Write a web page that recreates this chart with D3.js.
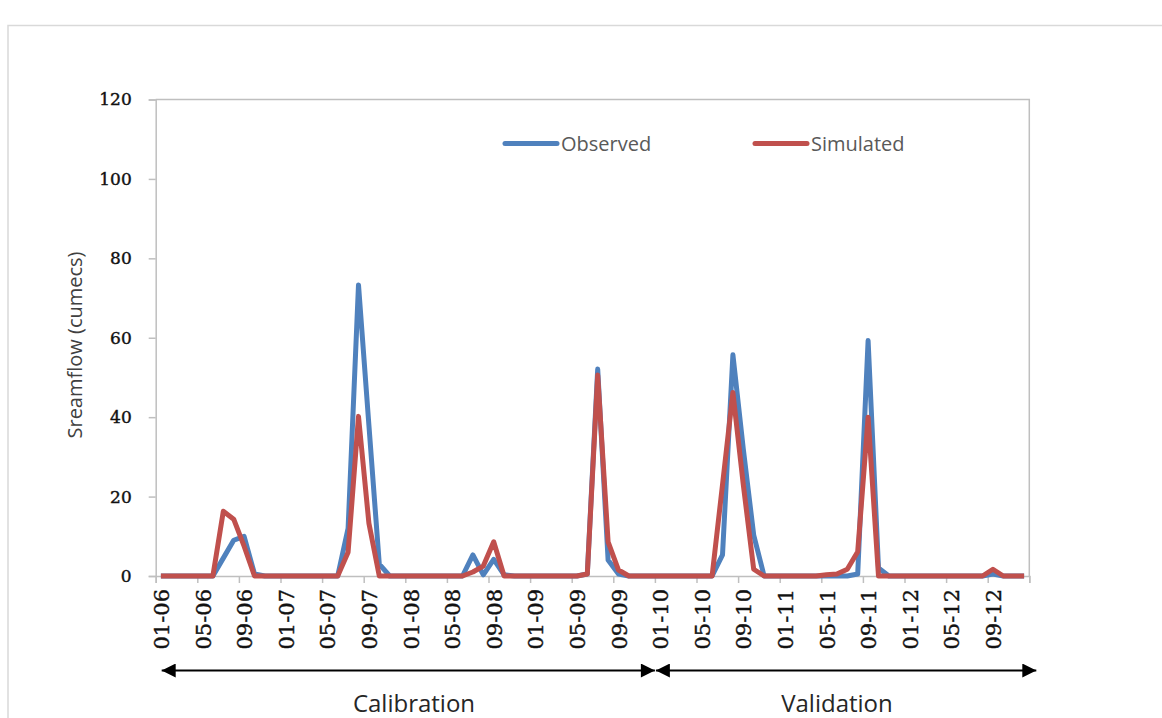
<!DOCTYPE html>
<html>
<head>
<meta charset="utf-8">
<script src="https://cdn.jsdelivr.net/npm/d3@7"></script>
<style>
  body { margin: 0; background: #fff; }
  svg { display: block; }
</style>
</head>
<body>
<div id="chart"></div>
<script>
var svgWidth = 1162;
var svgHeight = 718;

// months Jan 2006 .. Dec 2012
var categories = [
  "01-06","02-06","03-06","04-06","05-06","06-06","07-06","08-06","09-06","10-06","11-06","12-06",
  "01-07","02-07","03-07","04-07","05-07","06-07","07-07","08-07","09-07","10-07","11-07","12-07",
  "01-08","02-08","03-08","04-08","05-08","06-08","07-08","08-08","09-08","10-08","11-08","12-08",
  "01-09","02-09","03-09","04-09","05-09","06-09","07-09","08-09","09-09","10-09","11-09","12-09",
  "01-10","02-10","03-10","04-10","05-10","06-10","07-10","08-10","09-10","10-10","11-10","12-10",
  "01-11","02-11","03-11","04-11","05-11","06-11","07-11","08-11","09-11","10-11","11-11","12-11",
  "01-12","02-12","03-12","04-12","05-12","06-12","07-12","08-12","09-12","10-12","11-12","12-12"
];

var observed = [
  0,0,0,0,0,0,4.5,9,10,0.5,0,0,
  0,0,0,0,0,0,12,73.3,38,3,0,0,
  0,0,0,0,0,0,5.3,0.3,4.2,0.3,0,0,
  0,0,0,0,0,0.5,52.1,4,0.5,0,0,0,
  0,0,0,0,0,0,5.3,55.7,32,10.3,0,0,
  0,0,0,0,0,0,0,0.5,59.3,2,0,0,
  0,0,0,0,0,0,0,0,0.5,0,0,0
];

var simulated = [
  0,0,0,0,0,0,16.3,14.3,7.5,0,0,0,
  0,0,0,0,0,0,6,40.2,13.3,0,0,0,
  0,0,0,0,0,0,1,2.5,8.6,0,0,0,
  0,0,0,0,0,0.5,50.6,8.6,1.5,0,0,0,
  0,0,0,0,0,0,23,46.2,23,1.7,0,0,
  0,0,0,0,0.3,0.5,1.7,6.1,40,0,0,0,
  0,0,0,0,0,0,0,0,1.7,0,0,0
];

var yTicks = [0, 20, 40, 60, 80, 100, 120];
var tickLabels = ["01-06","05-06","09-06","01-07","05-07","09-07","01-08","05-08","09-08",
  "01-09","05-09","09-09","01-10","05-10","09-10","01-11","05-11","09-11","01-12","05-12","09-12"];

var plot = { left: 155.7, right: 1029.3, top: 99.5, bottom: 576 };
var axisGrey = "#bfbfbf";

var svg = d3.select("#chart")
  .append("svg")
  .attr("width", svgWidth)
  .attr("height", svgHeight);

svg.append("rect").attr("width", svgWidth).attr("height", svgHeight).attr("fill", "#fff");

// outer chart border (runs off the right and bottom edge)
svg.append("path")
  .attr("d", "M8,718 V25.5 H1162")
  .attr("fill", "none")
  .attr("stroke", "#d9d9d9")
  .attr("stroke-width", 1.5);

var xScale = d3.scaleBand()
  .domain(categories)
  .range([plot.left, plot.right])
  .paddingInner(0).paddingOuter(0);

var xBound = d3.scaleLinear()
  .domain([0, categories.length])
  .range([plot.left, plot.right]);

var yScale = d3.scaleLinear()
  .domain([0, 120])
  .range([plot.bottom, plot.top]);

// plot border (top and right)
svg.append("path")
  .attr("d", `M${plot.left},${plot.top} H${plot.right} V${plot.bottom}`)
  .attr("fill", "none")
  .attr("stroke", axisGrey)
  .attr("stroke-width", 1.5);

// y axis
var leftAxis = d3.axisLeft(yScale).tickValues(yTicks).tickSize(7).tickPadding(17);
var yAxisG = svg.append("g")
  .attr("transform", `translate(${plot.left}, 0)`)
  .call(leftAxis);
yAxisG.select(".domain").attr("stroke", axisGrey).attr("stroke-width", 1.5);
yAxisG.selectAll(".tick line").attr("stroke", axisGrey).attr("stroke-width", 1.5);
yAxisG.selectAll(".tick text")
  .attr("font-family", "DejaVu Serif")
  .attr("font-size", 17)
  .attr("fill", "#111")
  .attr("stroke", "#111")
  .attr("stroke-width", 0.4);

// x axis tick marks at category boundaries
var bottomAxis = d3.axisBottom(xBound)
  .tickValues(d3.range(0, categories.length + 1, 4))
  .tickSize(7)
  .tickFormat("");
var xAxisG = svg.append("g")
  .attr("transform", `translate(0, ${plot.bottom})`)
  .call(bottomAxis);
xAxisG.select(".domain").attr("stroke", axisGrey).attr("stroke-width", 1.5);
xAxisG.selectAll(".tick line").attr("stroke", axisGrey).attr("stroke-width", 1.5);

// x labels, rotated, centred on their month
svg.append("g").selectAll("text")
  .data(tickLabels)
  .enter()
  .append("text")
  .attr("transform", d => `translate(${xScale(d) + xScale.bandwidth() / 2 + 1}, ${plot.bottom + 13}) rotate(-90)`)
  .attr("text-anchor", "end")
  .attr("dominant-baseline", "central")
  .attr("font-family", "DejaVu Serif")
  .attr("font-size", 21)
  .attr("fill", "#111")
  .attr("stroke", "#111")
  .attr("stroke-width", 0.4)
  .text(d => d);

// lines
var line = d3.line()
  .x((d, i) => xScale(categories[i]) + xScale.bandwidth() / 2)
  .y(d => yScale(d));

svg.append("path")
  .datum(observed)
  .attr("d", line)
  .attr("fill", "none")
  .attr("stroke", "#4f81bd")
  .attr("stroke-width", 5)
  .attr("stroke-linejoin", "round");

svg.append("path")
  .datum(simulated)
  .attr("d", line)
  .attr("fill", "none")
  .attr("stroke", "#c0504d")
  .attr("stroke-width", 5)
  .attr("stroke-linejoin", "round");

// legend
var legend = [
  { name: "Observed", color: "#4f81bd", x: 505 },
  { name: "Simulated", color: "#c0504d", x: 755 }
];
var lg = svg.append("g").selectAll("g").data(legend).enter().append("g")
  .attr("transform", d => `translate(${d.x}, 143.5)`);
lg.append("line")
  .attr("x1", 0).attr("x2", 52)
  .attr("stroke", d => d.color)
  .attr("stroke-width", 5)
  .attr("stroke-linecap", "round");
lg.append("text")
  .attr("x", 56)
  .attr("dy", "0.35em")
  .attr("font-family", "Open Sans")
  .attr("font-size", 20)
  .attr("fill", "#595959")
  .text(d => d.name);

// y axis title
svg.append("text")
  .attr("transform", "translate(82, 345) rotate(-90)")
  .attr("text-anchor", "middle")
  .attr("font-family", "Open Sans")
  .attr("font-size", 20)
  .attr("fill", "#404040")
  .text("Sreamflow (cumecs)");

// period arrows
var defs = svg.append("defs");
defs.append("marker")
  .attr("id", "head")
  .attr("viewBox", "0 0 10 10")
  .attr("refX", 10).attr("refY", 5)
  .attr("markerUnits", "userSpaceOnUse")
  .attr("markerWidth", 15).attr("markerHeight", 14)
  .attr("orient", "auto-start-reverse")
  .append("path")
  .attr("d", "M0,0 L10,5 L0,10 Z")
  .attr("fill", "#000");

var periods = [
  { name: "Calibration", from: 0, to: 48, x1: 6, x2: 0, tx: 414 },
  { name: "Validation", from: 48, to: 84, x1: 1, x2: 7, tx: 837 }
];
svg.append("g").selectAll("line").data(periods).enter().append("line")
  .attr("x1", d => xBound(d.from) + d.x1)
  .attr("x2", d => xBound(d.to) + d.x2)
  .attr("y1", 670.5).attr("y2", 670.5)
  .attr("stroke", "#000")
  .attr("stroke-width", 2)
  .attr("marker-start", "url(#head)")
  .attr("marker-end", "url(#head)");

svg.append("g").selectAll("text").data(periods).enter().append("text")
  .attr("x", d => d.tx)
  .attr("y", 711.5)
  .attr("text-anchor", "middle")
  .attr("font-family", "Open Sans")
  .attr("font-size", 24)
  .attr("fill", "#262626")
  .text(d => d.name);
</script>
</body>
</html>
